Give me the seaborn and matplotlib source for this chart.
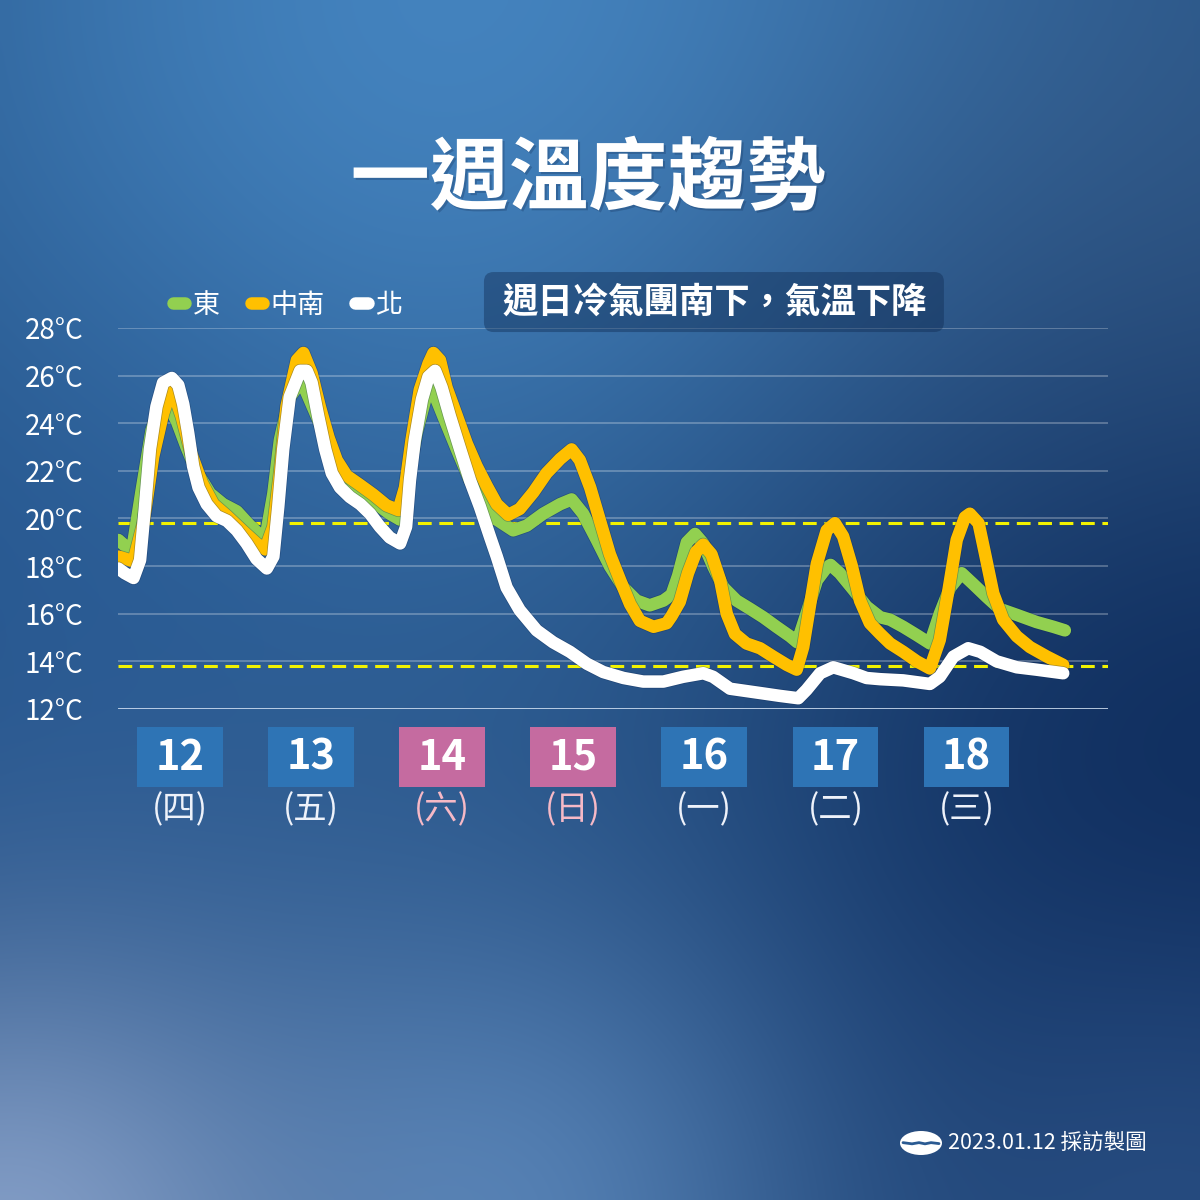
import numpy as np
import pandas as pd
import matplotlib
matplotlib.use("Agg")
import matplotlib.pyplot as plt
import seaborn as sns
from matplotlib.patches import FancyBboxPatch, Rectangle, Ellipse
from matplotlib.lines import Line2D
from matplotlib.transforms import blended_transform_factory
import matplotlib.patheffects as pe

# ---------------- data (hours since 12th 00:00, °C) ----------------
east_hours = [0.7, 3.2, 5.0, 6.8, 8.3, 9.6, 11.4, 13.2, 15.1, 17.5, 19.9, 22.4, 24.8, 27.6,
              29.1, 30.3, 32.1, 34.0, 34.6, 37.6, 39.5, 41.3, 43.7, 46.2, 48.6, 50.4, 52.3,
              53.5, 55.3, 56.9, 58.1, 60.2, 62.7, 65.1, 67.5, 70.0, 73.0, 75.5, 78.5, 81.6,
              83.7, 85.8, 88.3, 90.7, 93.2, 95.6, 98.0, 100.5, 102.0, 103.2, 104.8, 106.3,
              107.8, 109.6, 111.5, 113.9, 116.4, 118.8, 121.2, 123.7, 125.0, 126.7, 128.6,
              130.4, 131.1, 132.8, 135.3, 137.7, 140.2, 142.0, 144.4, 146.9, 149.3, 151.1,
              153.0, 155.1, 157.2, 159.7, 162.1, 165.2, 168.8, 171.9, 174.0]
east_temps = [19.1, 18.6, 21.2, 23.7, 24.7, 24.85, 24.1, 23.0, 21.95, 21.05, 20.6, 20.3, 19.7, 19.1,
              21.05, 23.3, 25.1, 25.7, 25.6, 24.0, 22.6, 21.9, 21.3, 20.9, 20.5, 20.2, 19.95,
              21.3, 23.6, 25.0, 25.5, 24.3, 22.9, 21.6, 20.6, 19.95, 19.5, 19.7, 20.2, 20.6,
              20.8, 20.2, 19.1, 18.0, 17.1, 16.55, 16.35, 16.55, 16.8, 17.6, 19.0, 19.35,
              18.95, 18.0, 17.1, 16.55, 16.2, 15.85, 15.45, 15.05, 14.8, 16.0, 17.4,
              17.95, 18.05, 17.7, 17.0, 16.3, 15.85, 15.75, 15.45, 15.1, 14.75, 16.0,
              17.1, 17.7, 17.25, 16.7, 16.2, 15.95, 15.65, 15.45, 15.3]

south_hours = [0.7, 3.5, 5.3, 7.1, 8.9, 10.5, 12.3, 14.1, 16.0, 18.1, 20.6, 23.6, 26.0, 27.6,
               29.1, 30.3, 31.5, 33.4, 34.6, 36.1, 37.6, 39.2, 40.7, 42.5, 45.0, 47.4, 49.8,
               52.0, 53.2, 54.4, 55.9, 57.5, 58.4, 59.6, 60.8, 62.7, 64.5, 66.3, 68.2, 70.0,
               72.1, 74.2, 76.7, 79.1, 81.6, 83.7, 85.2, 87.1, 88.9, 90.7, 92.6, 94.4, 96.2,
               98.7, 101.1, 102.0, 103.5, 105.0, 106.5, 107.8, 109.3, 110.9, 112.1, 113.6,
               115.7, 118.2, 120.6, 123.1, 124.9, 126.1, 127.3, 128.6, 130.4, 131.9, 133.4,
               135.0, 136.5, 138.3, 140.2, 142.0, 144.4, 146.9, 149.3, 151.1, 152.7, 154.2,
               155.7, 156.6, 158.2, 159.4, 160.9, 162.7, 165.2, 167.6, 170.7, 173.7]
south_temps = [18.4, 18.2, 19.8, 22.6, 24.4, 25.5, 24.3, 22.7, 21.5, 20.6, 20.1, 19.45, 18.95, 18.7,
               19.65, 21.9, 24.7, 26.65, 26.95, 26.1, 24.7, 23.4, 22.45, 21.8, 21.4, 21.0, 20.55,
               20.35, 21.3, 23.3, 25.4, 26.5, 26.95, 26.65, 25.5, 24.3, 23.15, 22.2, 21.35, 20.6,
               20.15, 20.4, 21.1, 21.9, 22.5, 22.9, 22.45, 21.3, 19.9, 18.5, 17.4, 16.4, 15.7,
               15.45, 15.6, 15.9, 16.5, 17.7, 18.6, 18.9, 18.5, 17.4, 16.0, 15.15,
               14.75, 14.55, 14.2, 13.85, 13.65, 14.6, 16.3, 18.1, 19.5, 19.8, 19.25,
               18.0, 16.55, 15.6, 15.15, 14.75, 14.4, 14.0, 13.7, 14.9, 17.0, 19.1,
               20.05, 20.2, 19.8, 18.5, 16.85, 15.75, 15.05, 14.6, 14.2, 13.85]

north_hours = [0.7, 1.9, 3.5, 4.7, 5.6, 6.5, 7.7, 8.9, 10.5, 11.7, 12.6, 13.5, 14.4, 15.4, 16.9,
               18.7, 20.6, 22.4, 24.2, 26.0, 27.9, 29.1, 30.0, 30.9, 32.1, 34.0, 35.2, 36.1,
               37.3, 38.6, 39.8, 41.3, 43.1, 45.0, 46.8, 48.6, 50.4, 52.3, 53.4, 54.1, 55.0,
               56.3, 57.5, 58.7, 59.9, 61.4, 63.3, 65.1, 66.9, 68.8, 70.0, 71.8, 74.2, 77.3,
               80.3, 83.4, 86.5, 89.5, 93.2, 96.8, 100.5, 104.1, 107.8, 109.6, 112.7, 118.8,
               121.8, 125.2, 126.7, 129.2, 131.6, 135.3, 137.7, 140.2, 144.4, 149.3, 151.1,
               153.6, 156.3, 158.5, 161.5, 165.2, 168.8, 173.7]
north_temps = [17.9, 17.7, 17.5, 18.25, 20.5, 22.9, 24.7, 25.7, 25.9, 25.6, 24.8, 23.6, 22.2, 21.3, 20.6,
               20.1, 19.9, 19.5, 18.95, 18.3, 17.9, 18.4, 20.5, 22.9, 25.1, 26.2, 26.2, 25.7,
               24.3, 22.9, 21.9, 21.3, 20.9, 20.6, 20.2, 19.65, 19.2, 18.95, 19.65, 21.6, 23.3,
               25.0, 25.95, 26.2, 25.5, 24.3, 22.9, 21.6, 20.5, 19.2, 18.4, 17.1, 16.15, 15.3,
               14.8, 14.4, 13.9, 13.55, 13.3, 13.15, 13.15, 13.35, 13.5, 13.35, 12.85, 12.65,
               12.55, 12.45, 12.8, 13.5, 13.75, 13.5, 13.3, 13.25, 13.2, 13.05, 13.35,
               14.2, 14.55, 14.4, 14.0, 13.75, 13.65, 13.5]

regions = ["東", "中南", "北"]
region_colors = ["#92D050", "#FFC000", "#FFFFFF"]
ref_lines = [19.8, 13.8]
y_ticks = [12, 14, 16, 18, 20, 22, 24, 26, 28]
day_numbers = ["12", "13", "14", "15", "16", "17", "18"]
weekdays = ["(四)", "(五)", "(六)", "(日)", "(一)", "(二)", "(三)"]
weekend = [False, False, True, True, False, False, False]
title_text = "一週溫度趨勢"
note_text = "週日冷氣團南下，氣溫下降"
footer_text = "2023.01.12 採訪製圖"

df = pd.concat([
    pd.DataFrame({"hour": east_hours, "temp": east_temps, "region": "東"}),
    pd.DataFrame({"hour": south_hours, "temp": south_temps, "region": "中南"}),
    pd.DataFrame({"hour": north_hours, "temp": north_temps, "region": "北"}),
], ignore_index=True)

# ---------------- style ----------------
sns.set_style("white")
plt.rcParams["font.family"] = ["Noto Sans CJK TC", "DejaVu Sans"]
plt.rcParams["lines.solid_capstyle"] = "round"
plt.rcParams["lines.solid_joinstyle"] = "round"

fig = plt.figure(figsize=(12, 12), dpi=100)

# background gradient
n = 300
yy, xx = np.mgrid[0:1:n * 1j, 0:1:n * 1j]


def blob(cx, cy, r):
    return np.exp(-((xx - cx) ** 2 + (yy - cy) ** 2) / (2 * r * r))


img = np.ones((n, n, 3)) * (np.array([28, 68, 118]) / 255)


def layer(img, color, w):
    c = np.array(color) / 255
    return img * (1 - w[..., None]) + c * w[..., None]


img = layer(img, (70, 135, 195), 0.95 * blob(0.40, 0.0, 0.42))
img = layer(img, (62, 98, 140), 0.55 * blob(1.0, 0.25, 0.25))
img = layer(img, (10, 38, 86), 0.85 * blob(1.02, 0.70, 0.30))
img = layer(img, (40, 90, 150), 0.5 * blob(0.0, 0.55, 0.2))
img = layer(img, (95, 140, 192), 0.8 * blob(0.42, 1.02, 0.2))
img = layer(img, (140, 165, 205), 0.9 * blob(0.0, 1.05, 0.19))
img = layer(img, (55, 95, 150), 0.5 * blob(1.0, 1.0, 0.18))
bg = fig.add_axes([0, 0, 1, 1], zorder=-10)
bg.imshow(img, aspect="auto", extent=[0, 1, 0, 1], interpolation="bicubic")
bg.axis("off")

ax = fig.add_axes([0.0983, 0.4092, 0.825, 0.3175])
ax.patch.set_alpha(0)

# reference dashed lines
for v in ref_lines:
    ax.axhline(v, color="#F2F200", lw=2.2, dashes=(4.5, 2.5), zorder=1)

sns.lineplot(data=df, x="hour", y="temp", hue="region", hue_order=regions,
             palette=region_colors, estimator=None, sort=False, linewidth=9,
             legend=False, ax=ax, zorder=3)
for ln in ax.get_lines():
    if ln.get_linewidth() > 5:
        ln.set_path_effects([pe.Stroke(linewidth=10, foreground=(0.05, 0.15, 0.32, 0.35)),
                             pe.Normal()])

ax.set_xlim(0.65, 181.89)
ax.set_ylim(12, 28)
ax.set_yticks(y_ticks)
ax.set_yticklabels([f"{t}°C" for t in y_ticks])
ax.set_xticks([])
ax.set_xlabel("")
ax.set_ylabel("")
ax.tick_params(axis="y", length=0, pad=25, labelsize=20, labelcolor="white")
ax.grid(axis="y", color="white", alpha=0.3, lw=1.2)
ax.grid(axis="x", visible=False)
ax.axhline(12, color=(0.8, 0.88, 0.97), lw=2, alpha=0.8, zorder=0.5)
for s in ax.spines.values():
    s.set_visible(False)

# legend
handles = [Line2D([0], [0], color=c, lw=9, solid_capstyle="round") for c in region_colors]
leg = ax.legend(handles, regions, loc="center left", bbox_to_anchor=(0.1442, 0.7455),
                bbox_transform=fig.transFigure, ncol=3, frameon=False, fontsize=19.5,
                handlelength=0.46, handletextpad=0.28, columnspacing=1.12,
                borderaxespad=0, borderpad=0)
for t in leg.get_texts():
    t.set_color("white")

# title
fig.text(0.49, 0.85, title_text, fontsize=57, fontweight="bold", color="white",
         ha="center", va="center",
         path_effects=[pe.withSimplePatchShadow(offset=(1.5, -1.5), shadow_rgbFace=(0.05, 0.15, 0.3),
                                                alpha=0.25)])

# note box
fig.add_artist(FancyBboxPatch((0.4033, 0.7233), 0.3833, 0.05,
                              boxstyle="round,pad=0,rounding_size=0.008",
                              transform=fig.transFigure, fc=(0.06, 0.17, 0.32, 0.42), ec="none"))
fig.text(0.5955, 0.7483, note_text, fontsize=25.5, fontweight="bold", color="white",
         ha="center", va="center")

# date boxes
tr = blended_transform_factory(ax.transData, fig.transFigure)
half_w = 7.85
for k, (dn, wd, we) in enumerate(zip(day_numbers, weekdays, weekend)):
    c = 12 + 24 * k
    ax.add_patch(Rectangle((c - half_w, 0.3442), 2 * half_w, 0.05, transform=tr,
                           fc="#C56BA0" if we else "#2E74B5", ec="none", clip_on=False))
    ax.text(c, 0.3685, dn, transform=tr, fontsize=30, fontweight="bold", color="white",
            ha="center", va="center", clip_on=False)
    ax.text(c, 0.3255, wd, transform=tr, fontsize=24,
            color="#F6B9C6" if we else "#EEF2FA", ha="center", va="center", clip_on=False)

# footer
fig.add_artist(Ellipse((921 / 1200, 1 - 1143 / 1200), 42 / 1200, 24 / 1200,
                       transform=fig.transFigure, fc="white", ec="none"))
fig.add_artist(Line2D([903 / 1200, 912 / 1200, 919 / 1200, 925 / 1200, 931 / 1200, 939 / 1200],
                      [0.0478, 0.0468, 0.0478, 0.0468, 0.0478, 0.0470],
                      transform=fig.transFigure, color="#2a5a92", lw=2))
fig.text(948 / 1200, 1 - 1143 / 1200, footer_text, fontsize=15.5, color="white",
         ha="left", va="center")

fig.savefig("out.png", dpi=100)
